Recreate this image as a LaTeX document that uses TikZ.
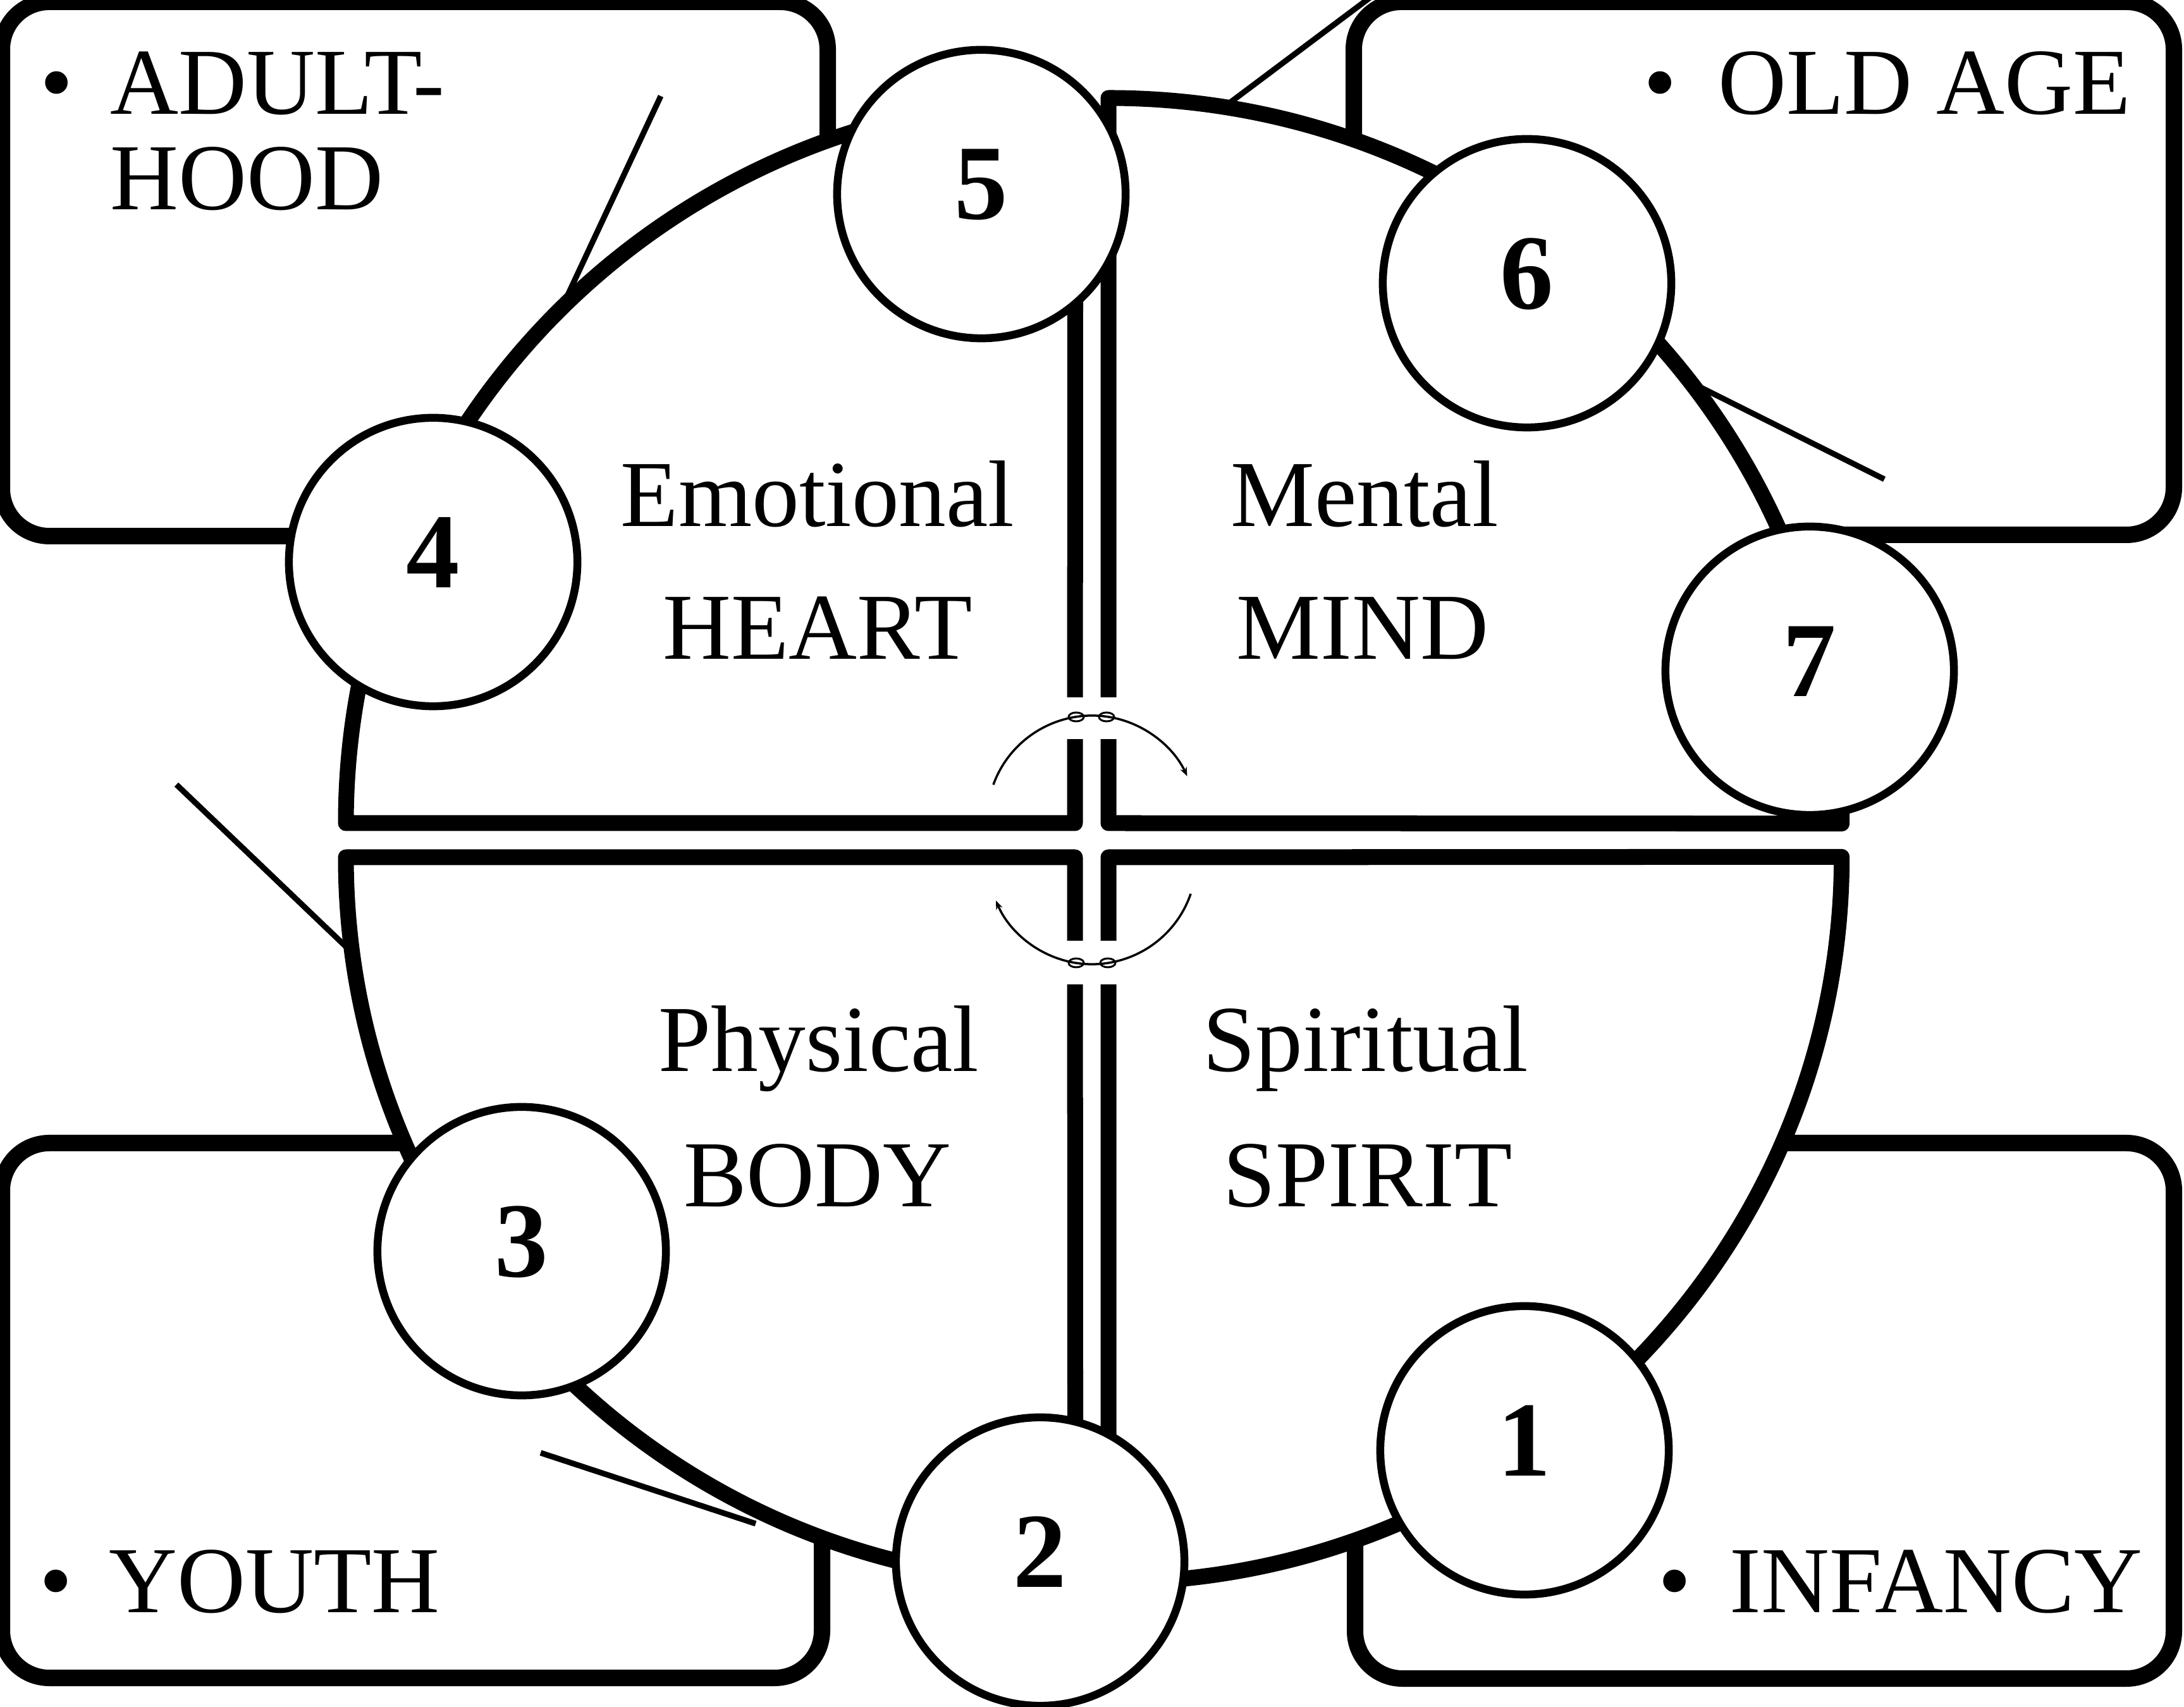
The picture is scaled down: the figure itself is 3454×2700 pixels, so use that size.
\documentclass[tikz,border=0pt]{standalone}
\usepackage{fontspec}
\setmainfont{Liberation Serif}
\usetikzlibrary{arrows.meta}
\begin{document}
\begin{tikzpicture}
    [x=0.01cm,y=0.01cm,
     stage/.style={draw,line width=0.26cm,rounded corners=0.75cm},
     quarter/.style={draw,fill=white,line width=0.25cm,line join=round},
     tick/.style={line width=0.09cm},
     ring/.style={circle,draw,fill=white,line width=0.125cm,minimum size=4.56cm,inner sep=0pt},
     num/.style={font=\fontsize{48}{50}\selectfont\bfseries,yshift=0.15cm},
     word/.style={font=\fontsize{42.5}{50}\selectfont,inner sep=0pt,anchor=base},
     age/.style={word,anchor=base west},
     turn/.style={line width=0.035cm,-{Stealth[length=0.14cm,width=0.11cm]}}]
    \useasboundingbox (0,0) rectangle (3454,2700);
    % age boxes
    \draw[stage] (3,1852) rectangle (1309,2697);
    \draw[stage] (2141,1854) rectangle (3438,2697);
    \draw[stage] (3,46) rectangle (1300,892);
    \draw[stage] (2143,45) rectangle (3438,892);
    % ticks
    \draw[tick] (1045,2548) -- (886,2208);
    \draw[tick] (1927,2524) -- (2175,2710);
    \draw[tick] (2668,2098) -- (2980,1942);
    \draw[tick] (279,1459) -- (552,1198);
    \draw[tick] (855,402) -- (1195,290);
    % quarters
    \draw[quarter] (1700,1398) -- (547,1398)
      arc[start angle=180,end angle=90,x radius=11.53cm,y radius=11.47cm] -- cycle;
    \draw[quarter] (1753,1398) -- (1753,2545)
      arc[start angle=90,end angle=0,x radius=11.59cm,y radius=11.47cm] -- cycle;
    \draw[quarter] (1700,1344) -- (547,1344)
      arc[start angle=180,end angle=270,x radius=11.53cm,y radius=11.47cm] -- cycle;
    \draw[quarter] (1753,1344) -- (1753,197)
      arc[start angle=270,end angle=360,x radius=11.59cm,y radius=11.47cm] -- cycle;
    \fill[white] (1680,1531) rectangle (1775,1597);
    \fill[white] (1680,1143) rectangle (1775,1212);
    % turning arrows
    \coordinate (top) at (1727,1402);
    \coordinate (bot) at (1727,1340);
    \draw[turn] (top) ++(160:1.66cm) arc[start angle=160,end angle=25,radius=1.66cm];
    \draw[turn] (bot) ++(-19:1.65cm) arc[start angle=-19,end angle=-157,radius=1.65cm];
    \foreach \x/\y in {1702/1566,1750/1566,1702/1177,1752/1177}
      \draw[line width=0.03cm] (\x,\y) ellipse[x radius=0.12cm,y radius=0.07cm];
    % stages
    \foreach \n/\p in {1/{2411,406},2/{1645,230},3/{825,721},4/{685,1811},
                       5/{1552,2393},6/{2415,2252},7/{2862,1639}}
      \node[ring,label={[num]center:\n}] (s\n) at (\p) {};
    % quarter names
    \node[word] (emo) at (1293,1867) {Emotional};
    \node[word] (heart) at (1293,1657) {HEART};
    \node[word] (men) at (2158,1867) {Mental};
    \node[word] (mind) at (2155,1657) {MIND};
    \node[word] (phy) at (1295,1005) {Physical};
    \node[word] (body) at (1293,791) {BODY};
    \node[word] (spi) at (2160,1005) {Spiritual};
    \node[word] (spirit) at (2163,791) {SPIRIT};
    % ages
    \node[word] (b1) at (90,2519) {•};
    \node[age] (adult) at (174,2519) {ADULT-};
    \node[age] (hood) at (174,2368) {HOOD};
    \node[word] (b2) at (2626,2519) {•};
    \node[age] (old) at (2717,2519) {OLD AGE};
    \node[word] (b3) at (89,149) {•};
    \node[age] (youth) at (172,149) {YOUTH};
    \node[word] (b4) at (2649,149) {•};
    \node[age] (inf) at (2735,149) {INFANCY};
\end{tikzpicture}
\end{document}
